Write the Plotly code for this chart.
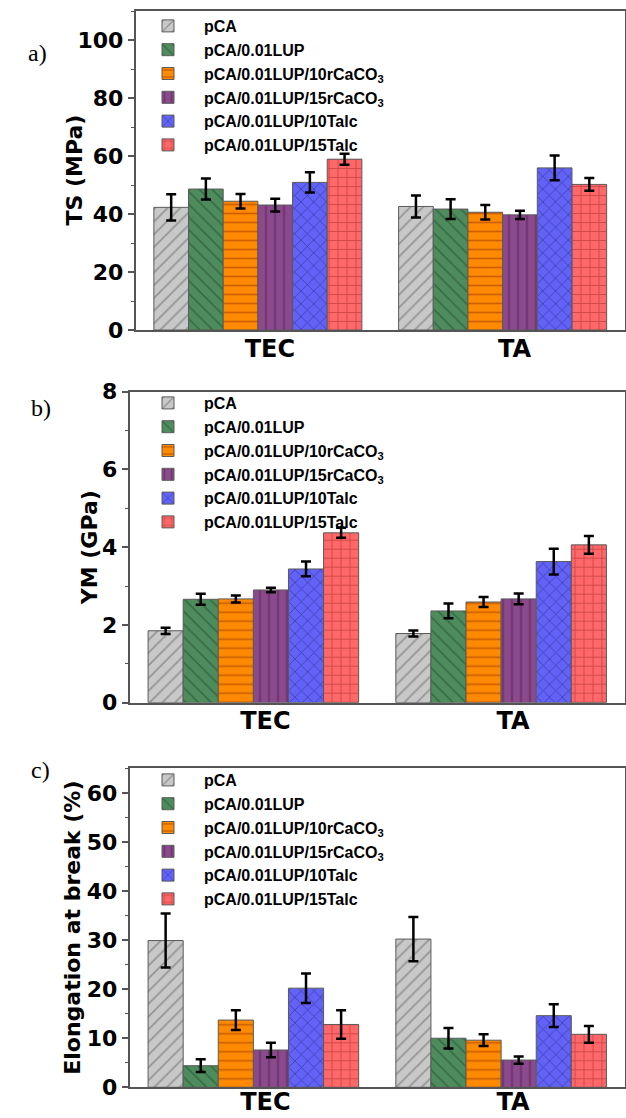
import plotly.graph_objects as go
from plotly.subplots import make_subplots

categories = ["TEC", "TA"]
series_names = [
    "pCA",
    "pCA/0.01LUP",
    "pCA/0.01LUP/10rCaCO<sub>3</sub>",
    "pCA/0.01LUP/15rCaCO<sub>3</sub>",
    "pCA/0.01LUP/10Talc",
    "pCA/0.01LUP/15Talc",
]

# Tensile strength (MPa): per series [TEC, TA]
ts_values = [[42.3, 42.6], [48.6, 41.7], [44.4, 40.6], [43.1, 39.7], [50.9, 55.9], [58.9, 50.2]]
ts_errors = [[4.5, 3.8], [3.6, 3.4], [2.5, 2.5], [2.2, 1.4], [3.5, 4.3], [1.9, 2.2]]

# Young's modulus (GPa)
ym_values = [[1.85, 1.78], [2.66, 2.36], [2.67, 2.59], [2.90, 2.67], [3.44, 3.63], [4.37, 4.06]]
ym_errors = [[0.08, 0.08], [0.14, 0.19], [0.09, 0.13], [0.06, 0.14], [0.19, 0.33], [0.13, 0.23]]

# Elongation at break (%)
el_values = [[29.9, 30.2], [4.4, 10.0], [13.7, 9.6], [7.6, 5.55], [20.2, 14.6], [12.8, 10.8]]
el_errors = [[5.5, 4.5], [1.3, 2.1], [2.0, 1.2], [1.5, 0.75], [3.0, 2.3], [2.9, 1.7]]

y_titles = ["TS (MPa)", "YM (GPa)", "Elongation at break (%)"]
panel_labels = ["a)", "b)", "c)"]

fill_colors = ["#c8c8c8", "#4e8c5e", "#ff8a00", "#8a4a8c", "#6262f7", "#ff6868"]
line_colors = ["#5e5e5e", "#1f4a2a", "#9a3200", "#421642", "#1e1e70", "#982020"]
shapes = ["/", "\\", "-", "|", "x", "+"]

W, H = 626, 1118
fig = make_subplots(rows=3, cols=1)

panels = [
    (ts_values, ts_errors, "legend"),
    (ym_values, ym_errors, "legend2"),
    (el_values, el_errors, "legend3"),
]
for r, (vals, errs, lg) in enumerate(panels, start=1):
    for i, name in enumerate(series_names):
        fig.add_trace(
            go.Bar(
                x=categories,
                y=vals[i],
                name=name,
                legend=lg,
                marker=dict(
                    color=fill_colors[i],
                    line=dict(color="#5a5a5a", width=1),
                    pattern=dict(shape=shapes[i], fgcolor=line_colors[i], size=9,
                                 solidity=0.18, fillmode="overlay"),
                ),
                error_y=dict(type="data", array=errs[i], color="black", thickness=2.5, width=5),
            ),
            row=r, col=1,
        )

tickfont = dict(family="DejaVu Sans", size=22, color="black", weight="bold")
xfont = dict(family="DejaVu Sans", size=24, color="black", weight="bold")
titlefont = dict(family="DejaVu Sans", size=22, color="black", weight="bold")
axcol = "#555555"

ydoms = [(11, 330), (391.7, 702.7), (768.3, 1087.3)]
xlefts = [135.5, 129.5, 129.5]
xright = 625.0
yranges = [(0, 110), (0, 8), (0, 65)]
dticks = [20, 2, 10]
title_x = [74, 89, 73]
x_standoffs = [-4, -4, -8]

annotations = []
for r in range(1, 4):
    top, bot = ydoms[r - 1]
    fig.update_yaxes(
        row=r, col=1,
        domain=[1 - bot / H, 1 - top / H],
        range=list(yranges[r - 1]), dtick=dticks[r - 1], tick0=0,
        showgrid=False, zeroline=False,
        showline=True, linecolor=axcol, linewidth=1.5, mirror=True,
        ticks="outside", ticklen=6, tickwidth=1.5, tickcolor=axcol,
        minor=dict(ticks="outside", ticklen=3, dtick=dticks[r - 1] / 2, tickcolor=axcol, tickwidth=1),
        tickfont=tickfont,
        automargin=False,
    )
    fig.update_xaxes(
        row=r, col=1,
        domain=[xlefts[r - 1] / W, xright / W],
        range=[-0.5, 1.5],
        showgrid=False, zeroline=False,
        showline=True, linecolor=axcol, linewidth=1.5, mirror=True,
        ticks="", tickfont=xfont, ticklabelshift=12, ticklabelstandoff=x_standoffs[r - 1],
        automargin=False,
    )
    annotations.append(dict(
        text=y_titles[r - 1], textangle=-90,
        x=title_x[r - 1] / W, y=1 - (top + bot) / 2 / H, xref="paper", yref="paper",
        xanchor="center", yanchor="middle", showarrow=False, font=titlefont,
    ))

legfont = dict(family="Liberation Sans", size=16, color="black", weight="bold")
legs = {}
for key, top in [("legend", 9), ("legend2", 386), ("legend3", 763)]:
    legs[key] = dict(
        x=132 / W, xanchor="left", y=1 - top / H, yanchor="top",
        font=legfont, bgcolor="rgba(0,0,0,0)", itemwidth=62,
        tracegroupgap=0, itemclick=False,
    )

for lbl, (ax, ay) in zip(panel_labels, [(26, 38), (29, 408), (29, 785)]):
    annotations.append(dict(
        text=lbl, x=ax / W, y=1 - ay / H, xref="paper", yref="paper",
        showarrow=False, font=dict(family="Liberation Serif", size=24, color="black"),
    ))

fig.update_layout(
    template="none",
    width=W, height=H,
    margin=dict(l=0, r=0, t=0, b=0),
    paper_bgcolor="white", plot_bgcolor="white",
    barmode="group", bargap=0.15, bargroupgap=0,
    showlegend=True,
    legend=legs["legend"], legend2=legs["legend2"], legend3=legs["legend3"],
    annotations=annotations,
)

fig.write_html("out.html")
